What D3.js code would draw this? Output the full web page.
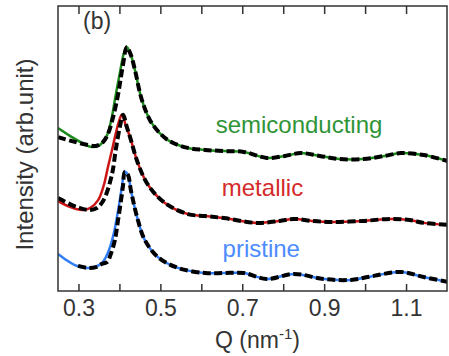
<!DOCTYPE html>
<html>
<head>
<meta charset="utf-8">
<script src="https://cdn.jsdelivr.net/npm/d3@7"></script>
<style>
  body { margin: 0; background: #fff; }
  svg text { font-family: "Liberation Sans", Arial, sans-serif; }
</style>
</head>
<body>
<div id="chart"></div>
<script>
// Q values (nm^-1) and intensities (arb. units)
var qSemi = [0.250,0.284,0.313,0.333,0.352,0.367,0.379,0.391,0.401,0.411,0.418,0.428,0.438,0.455,0.479,0.518,0.567,0.609,0.655,0.704,0.760,0.804,0.843,0.889,0.938,0.996,1.048,1.087,1.143,1.201];
var semi  = [57.2,54.0,51.6,50.5,51.2,53.7,59.3,68.8,76.5,83.5,85.6,82.8,77.5,67.0,58.9,53.0,50.2,49.5,49.1,48.8,46.7,47.4,48.4,47.4,46.3,46.3,47.4,48.4,47.7,45.6];

var qSemiFit = [0.250,0.284,0.323,0.343,0.360,0.372,0.384,0.396,0.409,0.418,0.428,0.438,0.455,0.479,0.518,0.567,0.609,0.655,0.704,0.760,0.804,0.843,0.889,0.938,0.996,1.048,1.087,1.143,1.201];
var semiFit  = [54.0,52.6,51.2,50.9,52.3,55.1,60.7,68.4,79.6,85.6,82.8,77.5,67.0,58.9,53.0,50.2,49.5,49.1,48.8,46.7,47.4,48.4,47.4,46.3,46.3,47.4,48.4,47.7,45.6];

var qMetal = [0.250,0.279,0.309,0.328,0.348,0.362,0.372,0.382,0.389,0.399,0.406,0.416,0.426,0.445,0.470,0.511,0.567,0.609,0.655,0.735,0.791,0.826,0.870,0.916,0.996,1.062,1.109,1.143,1.201];
var metal  = [31.6,29.5,28.4,29.1,31.9,37.2,43.5,49.5,54.0,59.6,61.8,57.9,54.0,44.9,37.2,30.9,27.0,26.3,25.6,23.9,24.6,25.3,24.6,24.2,24.6,25.3,24.9,23.9,23.2];

var qMetalFit = [0.250,0.279,0.304,0.328,0.345,0.357,0.367,0.377,0.384,0.391,0.401,0.409,0.418,0.426,0.445,0.470,0.511,0.567,0.609,0.655,0.735,0.791,0.826,0.870,0.916,0.996,1.062,1.109,1.143,1.201];
var metalFit  = [32.6,30.5,29.1,28.4,29.1,30.9,33.7,38.2,42.5,49.5,57.5,61.8,57.6,54.0,44.9,37.2,30.9,27.0,26.3,25.6,23.9,24.6,25.3,24.6,24.2,24.6,25.3,24.9,23.9,23.2];

var qPrist = [0.250,0.270,0.291,0.316,0.340,0.357,0.367,0.377,0.387,0.394,0.401,0.406,0.413,0.421,0.428,0.443,0.462,0.494,0.543,0.609,0.655,0.704,0.760,0.826,0.899,0.965,1.021,1.087,1.143,1.201];
var prist  = [13.0,10.9,9.1,8.1,8.4,9.8,11.9,15.4,20.7,26.0,31.9,36.5,41.8,40.7,35.4,26.0,17.9,11.9,8.1,6.3,6.3,6.3,4.2,6.0,4.2,3.9,5.3,6.7,4.9,3.2];

var qPristFit = [0.299,0.323,0.343,0.357,0.370,0.379,0.389,0.396,0.404,0.409,0.413,0.421,0.428,0.443,0.462,0.494,0.543,0.609,0.655,0.704,0.760,0.826,0.899,0.965,1.021,1.087,1.143,1.201];
var pristFit  = [8.8,8.1,8.4,9.5,10.2,13.0,17.9,24.2,31.9,37.2,41.8,40.7,35.4,26.0,17.9,11.9,8.1,6.3,6.3,6.3,4.2,6.0,4.2,3.9,5.3,6.7,4.9,3.2];

var xTicks = [0.3,0.4,0.5,0.6,0.7,0.8,0.9,1.0,1.1];
var xTickLabels = ["0.3","","0.5","","0.7","","0.9","","1.1"];

var seriesNames = ["semiconducting","metallic","pristine"];

// Drawing area
var W = 449, H = 356;
var margin = {top: 6, right: 2, bottom: 65, left: 58};
var width = W - margin.left - margin.right,
	height = H - margin.top - margin.bottom;

var svg = d3.select("#chart").append("svg")
	.attr("width", W)
	.attr("height", H)
	.append("g")
	.attr("transform", "translate(" + margin.left + "," + margin.top + ")");

svg.append("defs").append("clipPath")
	.attr("id", "clip")
	.append("rect")
	.attr("width", width)
	.attr("height", height);

var x = d3.scaleLinear().domain([0.25, 1.2]).range([0, width]);
var y = d3.scaleLinear().domain([0, 100]).range([height, 0]);

var line = d3.line()
	.curve(d3.curveCatmullRom.alpha(0.5))
	.x(function(d) { return x(d[0]); })
	.y(function(d) { return y(d[1]); });

var curves = [
	{q: qSemi, v: semi, qf: qSemiFit, vf: semiFit, color: "#1b8a1b", text: "#2f9438", lx: 0.635, ly: 55.5},
	{q: qMetal, v: metal, qf: qMetalFit, vf: metalFit, color: "#cc1616", text: "#d42a2a", lx: 0.650, ly: 33.5},
	{q: qPrist, v: prist, qf: qPristFit, vf: pristFit, color: "#2f7cf6", text: "#4d8bff", lx: 0.652, ly: 11.8}
];

var plot = svg.append("g").attr("clip-path", "url(#clip)");

// measured curves
curves.forEach(function(c) {
	plot.append("path")
		.datum(d3.zip(c.q, c.v))
		.attr("fill", "none")
		.attr("stroke", c.color)
		.attr("stroke-width", 2.5)
		.attr("d", line);
});

// fits, black dashed on top
curves.forEach(function(c) {
	plot.append("path")
		.datum(d3.zip(c.qf, c.vf))
		.attr("fill", "none")
		.attr("stroke", "#000")
		.attr("stroke-width", 4)
		.attr("stroke-dasharray", "8,3.5")
		.attr("d", line);
});

// series labels
curves.forEach(function(c, i) {
	svg.append("text")
		.attr("x", x(c.lx))
		.attr("y", y(c.ly))
		.attr("fill", c.text)
		.style("font-size", "24px")
		.text(seriesNames[i]);
});

// axes: inward ticks top and bottom
var xAxis = d3.axisBottom(x)
	.tickValues(xTicks)
	.tickSizeInner(-7)
	.tickSizeOuter(0)
	.tickPadding(9)
	.tickFormat(function(d, i) { return xTickLabels[i]; });

var gx = svg.append("g")
	.attr("transform", "translate(0," + height + ")")
	.call(xAxis);
gx.select(".domain").remove();
gx.selectAll("line").attr("stroke", "#333").attr("stroke-width", 1.5);
gx.selectAll("text").attr("fill", "#333").style("font-size", "23px");

var gxTop = svg.append("g")
	.call(d3.axisTop(x).tickValues(xTicks).tickSizeInner(-8).tickSizeOuter(0).tickFormat(""));
gxTop.select(".domain").remove();
gxTop.selectAll("line").attr("stroke", "#333").attr("stroke-width", 1.5);

// frame
svg.append("rect")
	.attr("width", width)
	.attr("height", height)
	.attr("fill", "none")
	.attr("stroke", "#333")
	.attr("stroke-width", 1.5);

svg.append("text")
	.attr("x", 25)
	.attr("y", 23)
	.attr("fill", "#333")
	.style("font-size", "23px")
	.text("(b)");

// axis titles
var xt = svg.append("text")
	.attr("x", width / 2 + 5)
	.attr("y", height + 57)
	.attr("text-anchor", "middle")
	.attr("fill", "#333")
	.style("font-size", "23px");
xt.append("tspan").text("Q (nm");
xt.append("tspan").attr("dy", "-9").style("font-size", "15px").text("-1");
xt.append("tspan").attr("dy", "9").text(")");

svg.append("text")
	.attr("transform", "translate(" + (-25) + "," + (height / 2 + 6) + ") rotate(-90)")
	.attr("text-anchor", "middle")
	.attr("fill", "#333")
	.style("font-size", "24px")
	.text("Intensity (arb.unit)");
</script>
</body>
</html>
